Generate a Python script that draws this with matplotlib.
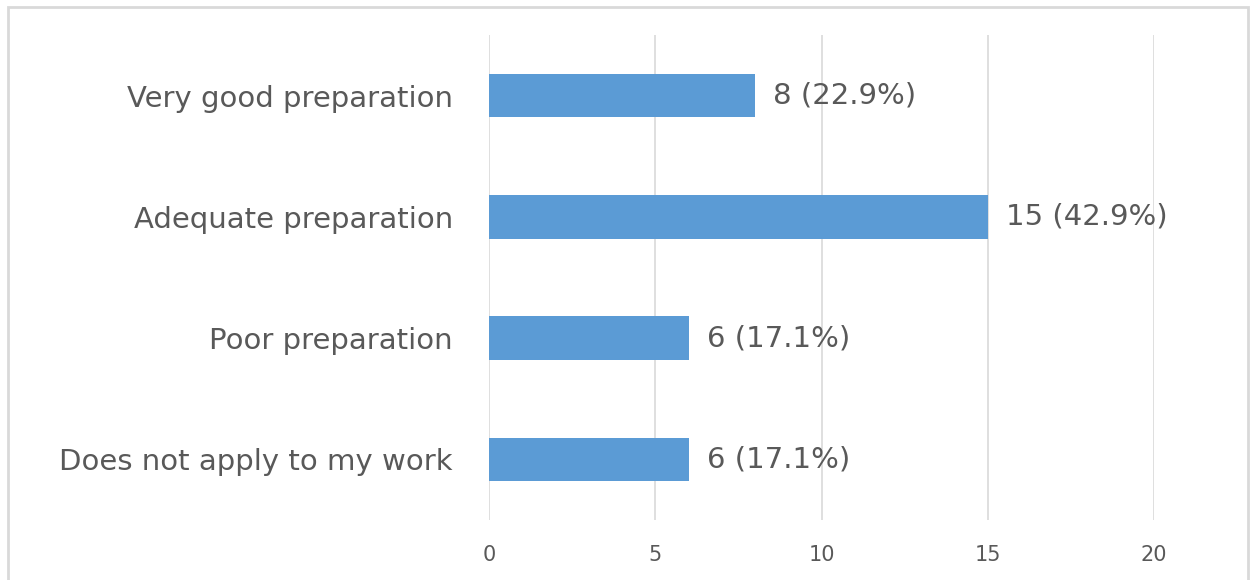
import matplotlib
matplotlib.use("Agg")
import matplotlib.pyplot as plt
from matplotlib.patches import Rectangle

categories = ["Very good preparation", "Adequate preparation", "Poor preparation", "Does not apply to my work"]
counts = [8, 15, 6, 6]
percents = [22.9, 42.9, 17.1, 17.1]
xticks = [0, 5, 10, 15, 20]

plt.rcParams['font.family'] = ['DejaVu Sans']
text_color = '#595959'

fig = plt.figure(figsize=(12.51, 5.80), dpi=100)
ax = fig.add_axes([489 / 1251, 1 - 520 / 580, (1154 - 489) / 1251, (520 - 35) / 580])

ypos = list(range(len(categories)))
ax.barh(ypos, counts, height=0.36, color='#5B9BD5', zorder=3)
for y, c, p in zip(ypos, counts, percents):
    ax.text(c + 0.55, y, f"{c} ({p:.1f}%)", va='center', ha='left', fontsize=21, color=text_color)

ax.set_yticks(ypos)
ax.set_yticklabels(categories, fontsize=21, color=text_color)
ax.set_ylim(len(categories) - 0.5, -0.5)
ax.set_xlim(0, 20)
ax.set_xticks(xticks)
ax.set_xticklabels([str(t) for t in xticks], fontsize=15, color=text_color)
ax.tick_params(axis='y', length=0, pad=26)
ax.tick_params(axis='x', length=0, pad=18)
ax.grid(axis='x', color='#D9D9D9', linewidth=1.2, zorder=0)
for s in ax.spines.values():
    s.set_visible(False)

# chart border
fig.patches.append(Rectangle((8 / 1251, -0.05), (1248 - 8) / 1251, 1.05 - 7 / 580,
                             transform=fig.transFigure, fill=False,
                             edgecolor='#D9D9D9', linewidth=2))

fig.savefig('out.png', dpi=100)
